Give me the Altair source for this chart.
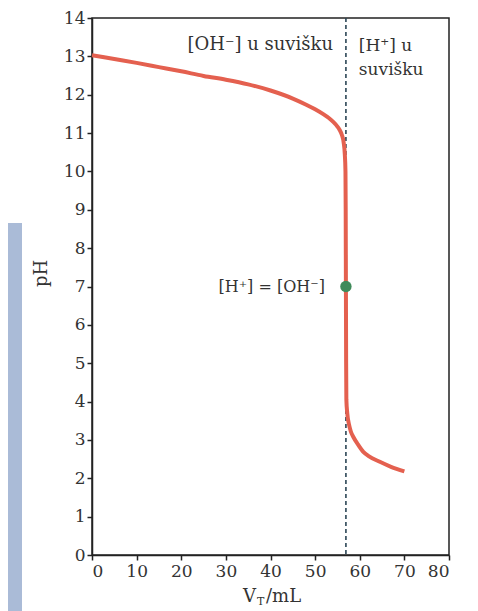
import altair as alt
import pandas as pd

# Titration curve
volume_ml = [0, 5, 10, 15, 20, 25, 30, 35, 40, 45, 48, 50, 52, 53, 54, 55, 55.5,
             56, 56.4, 56.65, 56.8, 56.85, 56.9, 56.95, 57.0, 57.2, 57.6, 58.0,
             58.6, 59.5, 60.8, 62, 64.5, 67, 70]
ph_values = [13.03, 12.93, 12.83, 12.72, 12.61, 12.49, 12.39, 12.27, 12.11, 11.90,
             11.74, 11.62, 11.48, 11.40, 11.30, 11.17, 11.08, 10.95, 10.75, 10.45,
             10.0, 9.0, 7.0, 5.0, 4.05, 3.7, 3.4, 3.22, 3.07, 2.9, 2.69, 2.58,
             2.43, 2.3, 2.18]

equiv_volume = [56.9]
equiv_ph = [7.0]

label_texts = ["[OH⁻] u suvišku", "[H⁺] u", "suvišku"]
label_x = [54.0, 59.8, 59.8]
label_y = [13.3, 13.27, 12.65]
label_align = ["right", "left", "left"]

eq_label_text = ["[H⁺] = [OH⁻]"]
eq_label_x = [52.2]
eq_label_y = [7.0]

x_ticks = [0, 10, 20, 30, 40, 50, 60, 70, 80]
y_ticks = list(range(0, 15))

FONT = "DejaVu Serif"

curve_df = pd.DataFrame({"V": volume_ml, "pH": ph_values})
eq_df = pd.DataFrame({"V": equiv_volume, "pH": equiv_ph})
lab_df = pd.DataFrame({"t": label_texts, "V": label_x, "pH": label_y, "a": label_align})
eqlab_df = pd.DataFrame({"t": eq_label_text, "V": eq_label_x, "pH": eq_label_y})

xscale = alt.Scale(domain=[0, 80], nice=False)
yscale = alt.Scale(domain=[0, 14], nice=False)

xaxis = alt.Axis(values=x_ticks, title=None, labelFont=FONT, labelFontSize=17,
                 labelColor="#333", tickColor="#222", domainColor="#222",
                 tickSize=5, domainWidth=1.5, tickWidth=1.5, labelPadding=3,
                 grid=False, labelOverlap=False)
yaxis = alt.Axis(values=y_ticks, title="pH", labelFont=FONT, labelFontSize=17,
                 labelColor="#333", tickColor="#222", domainColor="#222",
                 tickSize=5, domainWidth=1.5, tickWidth=1.5, labelPadding=2,
                 grid=False, labelOverlap=False, titleFont=FONT, titleFontSize=18,
                 titleFontWeight="normal", titleColor="#333", titleAngle=270,
                 titleX=-51, titleY=255, titleAlign="center", titleBaseline="middle")

X = alt.X("V:Q", scale=xscale, axis=xaxis)
Y = alt.Y("pH:Q", scale=yscale, axis=yaxis)

# decorative blue scan strip at far left
strip = alt.Chart(pd.DataFrame({"k": [0]})).mark_rect(color="#aabbd7").encode(
    x=alt.value(-84), x2=alt.value(-70), y=alt.value(205), y2=alt.value(610)
)

curve = alt.Chart(curve_df).mark_line(color="#e4604f", strokeWidth=4,
                                      interpolate="monotone").encode(x=X, y=Y)

vline = alt.Chart(eq_df).mark_rule(color="#2c4656", strokeWidth=1.6,
                                   strokeDash=[4, 3]).encode(
    x=X, y=alt.value(0), y2=alt.value(537),
)

dot = alt.Chart(eq_df).mark_circle(color="#3f8a5a", opacity=1, size=130).encode(x=X, y=Y)

labels_r = alt.Chart(lab_df[lab_df.a == "right"]).mark_text(
    font=FONT, fontSize=18, color="#333", align="right", baseline="middle"
).encode(x=X, y=Y, text="t:N")

labels_l = alt.Chart(lab_df[lab_df.a == "left"]).mark_text(
    font=FONT, fontSize=17, color="#333", align="left", baseline="middle"
).encode(x=X, y=Y, text="t:N")

eqlab = alt.Chart(eqlab_df).mark_text(
    font=FONT, fontSize=16, color="#333", align="right", baseline="middle"
).encode(x=X, y=Y, text="t:N")

# x-axis title V_T/mL with subscript
xt_v = alt.Chart(pd.DataFrame({"t": ["V"]})).mark_text(
    font=FONT, fontSize=18, color="#333", align="left", baseline="middle"
).encode(x=alt.value(151), y=alt.value(579), text="t:N")
xt_t = alt.Chart(pd.DataFrame({"t": ["T"]})).mark_text(
    font=FONT, fontSize=11, color="#333", align="left", baseline="middle"
).encode(x=alt.value(165), y=alt.value(584), text="t:N")
xt_ml = alt.Chart(pd.DataFrame({"t": ["/mL"]})).mark_text(
    font=FONT, fontSize=18, color="#333", align="left", baseline="middle"
).encode(x=alt.value(174), y=alt.value(579), text="t:N")

chart = alt.layer(strip, vline, curve, dot, labels_r, labels_l, eqlab,
                  xt_v, xt_t, xt_ml).properties(
    width=357, height=537,
    autosize=alt.AutoSizeParams(type="none"),
    padding={"left": 84, "top": 10, "right": 20, "bottom": 56},
    background="white",
).configure_view(stroke="#222", strokeWidth=1.5)

chart.save("out.html", embed_options={"renderer": "svg", "actions": False})
